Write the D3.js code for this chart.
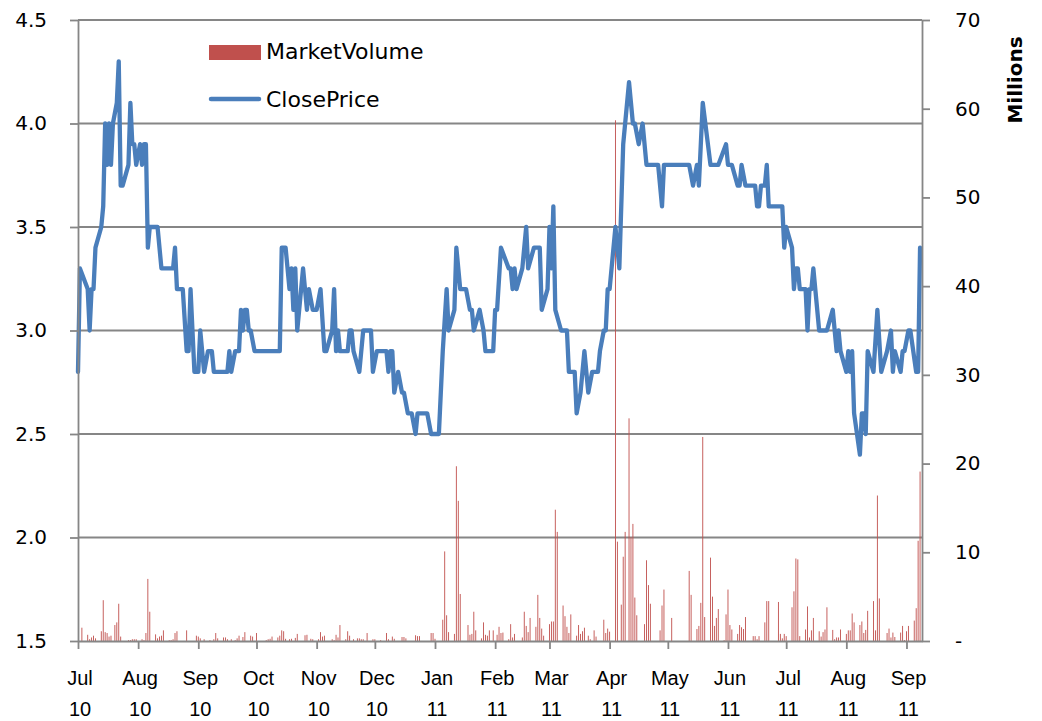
<!DOCTYPE html>
<html lang="en">
<head>
  <meta charset="UTF-8" />
  <title>ClosePrice and MarketVolume</title>
  <script src="https://d3js.org/d3.v7.min.js"></script>
  <style>
    body { margin: 0; background: #ffffff; }
    svg { font-family: 'DejaVu Sans', sans-serif; display: block; }
  </style>
</head>
<body>
<svg id="chart" width="1042" height="721"></svg>
<script>
// daily close price (turning points of the line)
const closePrice = [
  ["2010-07-01",2.8],["2010-07-02",3.3],["2010-07-06",3.2],["2010-07-07",3.0],["2010-07-08",3.2],["2010-07-09",3.2],
  ["2010-07-10",3.4],["2010-07-13",3.5],["2010-07-14",3.6],["2010-07-15",4.0],["2010-07-16",3.8],["2010-07-17",4.0],
  ["2010-07-18",3.8],["2010-07-19",4.0],["2010-07-21",4.1],["2010-07-22",4.3],["2010-07-23",3.7],["2010-07-24",3.7],
  ["2010-07-27",3.8],["2010-07-28",4.1],["2010-07-29",3.9],["2010-07-30",3.9],["2010-07-31",3.8],["2010-08-02",3.9],
  ["2010-08-03",3.8],["2010-08-04",3.9],["2010-08-05",3.9],["2010-08-06",3.4],["2010-08-07",3.5],["2010-08-11",3.5],
  ["2010-08-13",3.3],["2010-08-19",3.3],["2010-08-20",3.4],["2010-08-21",3.2],["2010-08-24",3.2],["2010-08-26",2.9],
  ["2010-08-27",2.9],["2010-08-28",3.2],["2010-08-29",3.0],["2010-08-30",2.8],["2010-09-01",2.8],["2010-09-02",3.0],
  ["2010-09-04",2.8],["2010-09-06",2.9],["2010-09-08",2.9],["2010-09-09",2.8],["2010-09-16",2.8],["2010-09-17",2.9],
  ["2010-09-18",2.8],["2010-09-20",2.9],["2010-09-22",2.9],["2010-09-23",3.1],["2010-09-24",3.0],["2010-09-25",3.1],
  ["2010-09-26",3.1],["2010-09-27",3.0],["2010-09-28",3.0],["2010-09-30",2.9],["2010-10-13",2.9],["2010-10-14",3.4],
  ["2010-10-16",3.4],["2010-10-18",3.2],["2010-10-19",3.3],["2010-10-20",3.1],["2010-10-21",3.3],["2010-10-22",3.0],
  ["2010-10-25",3.3],["2010-10-27",3.1],["2010-10-28",3.2],["2010-10-30",3.1],["2010-11-01",3.1],["2010-11-03",3.2],
  ["2010-11-05",2.9],["2010-11-06",2.9],["2010-11-09",3.0],["2010-11-10",3.2],["2010-11-11",2.9],["2010-11-12",3.0],
  ["2010-11-13",2.9],["2010-11-17",2.9],["2010-11-18",3.0],["2010-11-19",3.0],["2010-11-20",2.9],["2010-11-23",2.8],
  ["2010-11-25",3.0],["2010-11-29",3.0],["2010-11-30",2.8],["2010-12-02",2.9],["2010-12-07",2.9],["2010-12-08",2.8],
  ["2010-12-09",2.9],["2010-12-10",2.9],["2010-12-11",2.7],["2010-12-13",2.8],["2010-12-15",2.7],["2010-12-16",2.7],
  ["2010-12-18",2.6],["2010-12-20",2.6],["2010-12-22",2.5],["2010-12-23",2.6],["2010-12-28",2.6],["2010-12-30",2.5],
  ["2011-01-03",2.5],["2011-01-05",2.9],["2011-01-07",3.2],["2011-01-08",3.0],["2011-01-11",3.1],["2011-01-12",3.4],
  ["2011-01-14",3.2],["2011-01-17",3.2],["2011-01-19",3.1],["2011-01-20",3.1],["2011-01-21",3.0],["2011-01-24",3.1],
  ["2011-01-26",3.0],["2011-01-27",2.9],["2011-01-31",2.9],["2011-02-01",3.1],["2011-02-02",3.1],["2011-02-04",3.4],
  ["2011-02-08",3.3],["2011-02-09",3.3],["2011-02-10",3.2],["2011-02-11",3.3],["2011-02-12",3.2],["2011-02-15",3.3],
  ["2011-02-17",3.5],["2011-02-18",3.3],["2011-02-21",3.4],["2011-02-24",3.4],["2011-02-25",3.1],["2011-02-28",3.2],
  ["2011-03-01",3.5],["2011-03-02",3.3],["2011-03-03",3.6],["2011-03-04",3.1],["2011-03-07",3.0],["2011-03-10",3.0],
  ["2011-03-11",2.8],["2011-03-14",2.8],["2011-03-15",2.6],["2011-03-17",2.7],["2011-03-19",2.9],["2011-03-21",2.7],
  ["2011-03-23",2.8],["2011-03-26",2.8],["2011-03-27",2.9],["2011-03-29",3.0],["2011-03-30",3.0],["2011-03-31",3.2],
  ["2011-04-01",3.2],["2011-04-04",3.5],["2011-04-06",3.3],["2011-04-08",3.9],["2011-04-11",4.2],["2011-04-13",4.0],
  ["2011-04-14",4.0],["2011-04-16",3.9],["2011-04-18",4.0],["2011-04-20",3.8],["2011-04-26",3.8],["2011-04-28",3.6],
  ["2011-04-29",3.8],["2011-05-12",3.8],["2011-05-14",3.7],["2011-05-16",3.8],["2011-05-17",3.7],["2011-05-19",4.1],
  ["2011-05-23",3.8],["2011-05-27",3.8],["2011-05-31",3.9],["2011-06-01",3.8],["2011-06-03",3.8],["2011-06-06",3.7],
  ["2011-06-07",3.7],["2011-06-08",3.8],["2011-06-10",3.7],["2011-06-15",3.7],["2011-06-16",3.6],["2011-06-17",3.6],
  ["2011-06-18",3.7],["2011-06-20",3.7],["2011-06-21",3.8],["2011-06-22",3.6],["2011-06-29",3.6],["2011-06-30",3.4],
  ["2011-07-01",3.5],["2011-07-04",3.4],["2011-07-05",3.2],["2011-07-06",3.3],["2011-07-07",3.3],["2011-07-08",3.2],
  ["2011-07-11",3.2],["2011-07-12",3.0],["2011-07-13",3.2],["2011-07-14",3.2],["2011-07-15",3.3],["2011-07-18",3.0],
  ["2011-07-22",3.0],["2011-07-25",3.1],["2011-07-27",2.9],["2011-07-28",3.0],["2011-07-29",2.9],["2011-08-01",2.8],
  ["2011-08-02",2.9],["2011-08-03",2.8],["2011-08-04",2.9],["2011-08-05",2.6],["2011-08-08",2.4],["2011-08-09",2.6],
  ["2011-08-10",2.6],["2011-08-11",2.5],["2011-08-12",2.9],["2011-08-15",2.8],["2011-08-17",3.1],["2011-08-19",2.8],
  ["2011-08-22",2.9],["2011-08-24",3.0],["2011-08-25",2.8],["2011-08-26",2.9],["2011-08-29",2.8],["2011-08-30",2.9],
  ["2011-08-31",2.9],["2011-09-02",3.0],["2011-09-03",3.0],["2011-09-06",2.8],["2011-09-07",2.8],["2011-09-08",3.4]
];

// daily market volume, millions
const marketVolume = [
  ["2010-07-03",1.5],["2010-07-06",0.7],["2010-07-07",0.2],["2010-07-08",0.4],["2010-07-09",0.6],["2010-07-10",0.3],
  ["2010-07-13",1.1],["2010-07-14",4.6],["2010-07-15",1.0],["2010-07-16",0.9],["2010-07-17",0.5],["2010-07-18",0.6],
  ["2010-07-20",1.8],["2010-07-21",2.1],["2010-07-22",4.2],["2010-07-23",0.5],["2010-07-27",0.1],["2010-07-28",0.1],
  ["2010-07-29",0.2],["2010-07-30",0.2],["2010-07-31",0.2],["2010-08-03",0.2],["2010-08-04",0.1],["2010-08-05",0.9],
  ["2010-08-06",7.0],["2010-08-07",3.3],["2010-08-10",0.75],["2010-08-11",0.3],["2010-08-12",0.5],["2010-08-13",0.6],
  ["2010-08-14",1.2],["2010-08-17",0.1],["2010-08-18",0.1],["2010-08-19",0.2],["2010-08-20",0.9],["2010-08-21",1.1],
  ["2010-08-26",1.2],["2010-08-31",0.6],["2010-09-01",0.5],["2010-09-02",0.3],["2010-09-04",0.2],["2010-09-07",0.1],
  ["2010-09-09",0.2],["2010-09-10",0.9],["2010-09-11",0.3],["2010-09-14",0.4],["2010-09-15",0.4],["2010-09-16",0.2],
  ["2010-09-18",0.2],["2010-09-20",0.1],["2010-09-21",0.3],["2010-09-22",0.6],["2010-09-24",0.45],["2010-09-25",1.0],
  ["2010-09-28",0.6],["2010-09-29",0.5],["2010-10-01",0.9],["2010-10-06",0.1],["2010-10-07",0.2],["2010-10-08",0.25],
  ["2010-10-09",0.5],["2010-10-12",0.4],["2010-10-13",0.6],["2010-10-14",1.2],["2010-10-15",1.1],["2010-10-16",0.25],
  ["2010-10-18",0.2],["2010-10-19",0.25],["2010-10-21",0.35],["2010-10-22",0.8],["2010-10-26",0.65],["2010-10-27",0.7],
  ["2010-10-29",0.25],["2010-10-30",0.2],["2010-11-02",0.2],["2010-11-03",1.0],["2010-11-04",0.5],["2010-11-05",0.6],
  ["2010-11-09",0.2],["2010-11-10",0.1],["2010-11-11",0.7],["2010-11-12",0.4],["2010-11-13",1.8],["2010-11-16",0.2],
  ["2010-11-17",1.1],["2010-11-18",0.6],["2010-11-20",0.2],["2010-11-22",0.3],["2010-11-23",0.3],["2010-11-24",0.2],
  ["2010-11-25",0.2],["2010-11-27",0.9],["2010-11-30",0.2],["2010-12-01",0.2],["2010-12-04",0.1],["2010-12-07",0.9],
  ["2010-12-08",0.2],["2010-12-10",0.5],["2010-12-11",0.25],["2010-12-15",0.45],["2010-12-16",0.45],["2010-12-17",0.3],
  ["2010-12-22",0.65],["2010-12-23",0.55],["2010-12-24",0.55],["2010-12-30",0.9],["2010-12-31",0.9],["2011-01-01",0.25],
  ["2011-01-05",2.4],["2011-01-06",10.1],["2011-01-07",2.9],["2011-01-08",1.0],["2011-01-11",0.8],["2011-01-12",19.7],
  ["2011-01-13",15.8],["2011-01-14",5.3],["2011-01-18",1.8],["2011-01-19",0.7],["2011-01-20",0.8],["2011-01-21",3.3],
  ["2011-01-22",1.2],["2011-01-25",0.3],["2011-01-26",2.1],["2011-01-27",0.7],["2011-01-28",0.6],["2011-01-29",1.2],
  ["2011-01-31",1.2],["2011-02-02",0.7],["2011-02-03",1.6],["2011-02-04",0.9],["2011-02-05",0.95],["2011-02-08",0.2],
  ["2011-02-09",1.9],["2011-02-10",0.4],["2011-02-11",0.8],["2011-02-15",0.4],["2011-02-16",3.3],["2011-02-17",1.7],
  ["2011-02-18",1.0],["2011-02-19",2.6],["2011-02-22",1.6],["2011-02-23",5.2],["2011-02-24",2.6],["2011-02-25",1.4],
  ["2011-02-26",0.6],["2011-03-01",1.9],["2011-03-02",2.2],["2011-03-03",2.2],["2011-03-04",14.8],["2011-03-05",12.3],
  ["2011-03-08",4.0],["2011-03-09",2.8],["2011-03-10",1.6],["2011-03-11",0.9],["2011-03-12",3.0],["2011-03-15",0.6],
  ["2011-03-16",1.8],["2011-03-17",0.8],["2011-03-18",1.1],["2011-03-19",1.5],["2011-03-21",0.6],["2011-03-22",0.2],
  ["2011-03-24",1.2],["2011-03-25",0.5],["2011-03-29",2.4],["2011-03-30",0.9],["2011-03-31",1.4],["2011-04-01",1.05],
  ["2011-04-04",58.7],["2011-04-05",11.2],["2011-04-07",4.1],["2011-04-08",9.5],["2011-04-09",12.3],["2011-04-11",25.1],
  ["2011-04-12",11.7],["2011-04-13",13.2],["2011-04-14",4.9],["2011-04-15",2.9],["2011-04-19",1.9],["2011-04-20",9.1],
  ["2011-04-21",6.3],["2011-04-22",4.2],["2011-04-27",1.2],["2011-04-28",4.0],["2011-04-29",5.8],["2011-05-03",2.6],
  ["2011-05-12",7.9],["2011-05-13",5.2],["2011-05-16",1.35],["2011-05-17",1.7],["2011-05-18",4.3],["2011-05-19",23.0],
  ["2011-05-20",2.7],["2011-05-23",9.4],["2011-05-24",5.0],["2011-05-25",1.7],["2011-05-26",2.6],["2011-05-27",3.6],
  ["2011-05-30",0.1],["2011-05-31",3.0],["2011-06-01",5.8],["2011-06-02",1.8],["2011-06-03",1.3],["2011-06-06",0.8],
  ["2011-06-07",1.8],["2011-06-08",1.55],["2011-06-09",1.35],["2011-06-10",2.7],["2011-06-14",0.55],["2011-06-15",0.55],
  ["2011-06-16",0.2],["2011-06-17",0.55],["2011-06-20",2.1],["2011-06-21",4.5],["2011-06-22",4.5],["2011-06-27",4.4],
  ["2011-06-28",0.8],["2011-06-29",0.3],["2011-06-30",0.8],["2011-07-01",0.55],["2011-07-04",3.8],["2011-07-05",5.6],
  ["2011-07-06",9.3],["2011-07-07",9.2],["2011-07-08",0.55],["2011-07-11",1.3],["2011-07-12",3.9],["2011-07-13",0.4],
  ["2011-07-14",1.2],["2011-07-15",2.6],["2011-07-18",1.1],["2011-07-19",0.5],["2011-07-20",1.0],["2011-07-21",1.3],
  ["2011-07-22",3.8],["2011-07-25",1.25],["2011-07-26",0.2],["2011-07-27",0.4],["2011-07-28",0.4],["2011-07-29",1.3],
  ["2011-08-01",0.8],["2011-08-02",1.2],["2011-08-03",1.2],["2011-08-04",3.1],["2011-08-05",2.1],["2011-08-08",1.8],
  ["2011-08-09",2.2],["2011-08-10",0.9],["2011-08-11",1.25],["2011-08-12",3.4],["2011-08-15",4.5],["2011-08-16",1.2],
  ["2011-08-17",16.4],["2011-08-18",4.8],["2011-08-22",0.9],["2011-08-23",1.4],["2011-08-24",0.4],["2011-08-25",0.95],
  ["2011-08-26",0.45],["2011-08-29",0.95],["2011-08-30",1.7],["2011-08-31",0.1],["2011-09-01",1.1],["2011-09-02",1.7],
  ["2011-09-05",2.3],["2011-09-06",3.7],["2011-09-07",11.3],["2011-09-08",19.1]
];

const priceTicks = [1.5, 2.0, 2.5, 3.0, 3.5, 4.0, 4.5];
const volumeTicks = [0, 10, 20, 30, 40, 50, 60, 70];
const monthTicks = ["2010-07-01","2010-08-01","2010-09-01","2010-10-01","2010-11-01","2010-12-01","2011-01-01",
  "2011-02-01","2011-03-01","2011-04-01","2011-05-01","2011-06-01","2011-07-01","2011-08-01","2011-09-01"];
const dateRange = ["2010-07-01", "2011-09-09"];

const parse = d3.timeParse("%Y-%m-%d");
const prices = closePrice.map(d => ({ date: parse(d[0]), value: d[1] }));
const volumes = marketVolume.map(d => ({ date: parse(d[0]), value: d[1] }));

const plotLeft = 78, plotRight = 922, plotTop = 20, plotBottom = 641;
const gridColor = "#868686";
const svg = d3.select("#chart");

const x = d3.scaleTime().domain(dateRange.map(parse)).range([plotLeft, plotRight]);
const yPrice = d3.scaleLinear().domain([1.5, 4.5]).range([plotBottom, plotTop]);
const yVol = d3.scaleLinear().domain([0, 70]).range([plotBottom, plotTop]);

// horizontal gridlines
svg.append("g")
  .selectAll("line")
  .data(priceTicks.slice(1))
  .join("line")
  .attr("x1", plotLeft).attr("x2", plotRight)
  .attr("y1", d => yPrice(d)).attr("y2", d => yPrice(d))
  .attr("stroke", gridColor).attr("stroke-width", 1.8);

// volume bars
svg.append("g")
  .selectAll("rect")
  .data(volumes)
  .join("rect")
  .attr("x", d => x(d.date) - 0.45)
  .attr("width", 0.9)
  .attr("y", d => yVol(d.value))
  .attr("height", d => plotBottom - yVol(d.value))
  .attr("fill", "#c0504d");

// close price line
svg.append("path")
  .datum(prices)
  .attr("fill", "none")
  .attr("stroke", "#4a7ebb")
  .attr("stroke-width", 4.3)
  .attr("stroke-linejoin", "round")
  .attr("stroke-linecap", "round")
  .attr("d", d3.line().x(d => x(d.date)).y(d => yPrice(d.value)));

function styleAxis(g) {
  g.select(".domain").attr("stroke", gridColor).attr("stroke-width", 1.8);
  g.selectAll(".tick line").attr("stroke", gridColor).attr("stroke-width", 1.8);
  g.selectAll("text").attr("fill", "#000").style("font-size", "20px")
    .style("font-family", "'DejaVu Sans', sans-serif");
}

// left axis
svg.append("g")
  .attr("transform", `translate(${plotLeft},0)`)
  .call(d3.axisLeft(yPrice).tickValues(priceTicks).tickFormat(d3.format(".1f"))
    .tickSize(8).tickSizeOuter(0).tickPadding(23))
  .call(styleAxis);

// right axis
svg.append("g")
  .attr("transform", `translate(${plotRight},0)`)
  .call(d3.axisRight(yVol).tickValues(volumeTicks).tickFormat(d => d === 0 ? "-" : d)
    .tickSize(8).tickSizeOuter(0).tickPadding(25))
  .call(styleAxis);

// bottom axis, two line month labels
const xAxis = svg.append("g")
  .attr("transform", `translate(0,${plotBottom})`)
  .call(d3.axisBottom(x).tickValues(monthTicks.map(parse)).tickFormat("")
    .tickSize(8).tickSizeOuter(0))
  .call(styleAxis);

xAxis.selectAll(".tick")
  .append("text")
  .attr("y", 44).attr("x", 1.5)
  .attr("text-anchor", "middle")
  .attr("fill", "#000")
  .style("font-size", "20px")
  .text(d => d3.timeFormat("%b")(d));

xAxis.selectAll(".tick")
  .append("text")
  .attr("y", 75).attr("x", 1.5)
  .attr("text-anchor", "middle")
  .attr("fill", "#000")
  .style("font-size", "20px")
  .text(d => d3.timeFormat("%y")(d));

// right axis title
svg.append("text")
  .attr("transform", "translate(1022,80) rotate(-90)")
  .attr("text-anchor", "middle")
  .style("font-size", "20px")
  .style("font-weight", "bold")
  .text("Millions");

// legend
const legend = svg.append("g");
legend.append("rect")
  .attr("x", 209).attr("y", 45).attr("width", 52).attr("height", 15)
  .attr("fill", "#c0504d");
legend.append("text")
  .attr("x", 266).attr("y", 59)
  .style("font-size", "22px")
  .text("MarketVolume");
legend.append("line")
  .attr("x1", 211).attr("x2", 259).attr("y1", 99).attr("y2", 99)
  .attr("stroke", "#4a7ebb").attr("stroke-width", 4.5).attr("stroke-linecap", "round");
legend.append("text")
  .attr("x", 266).attr("y", 107)
  .style("font-size", "22px")
  .text("ClosePrice");
</script>
</body>
</html>
